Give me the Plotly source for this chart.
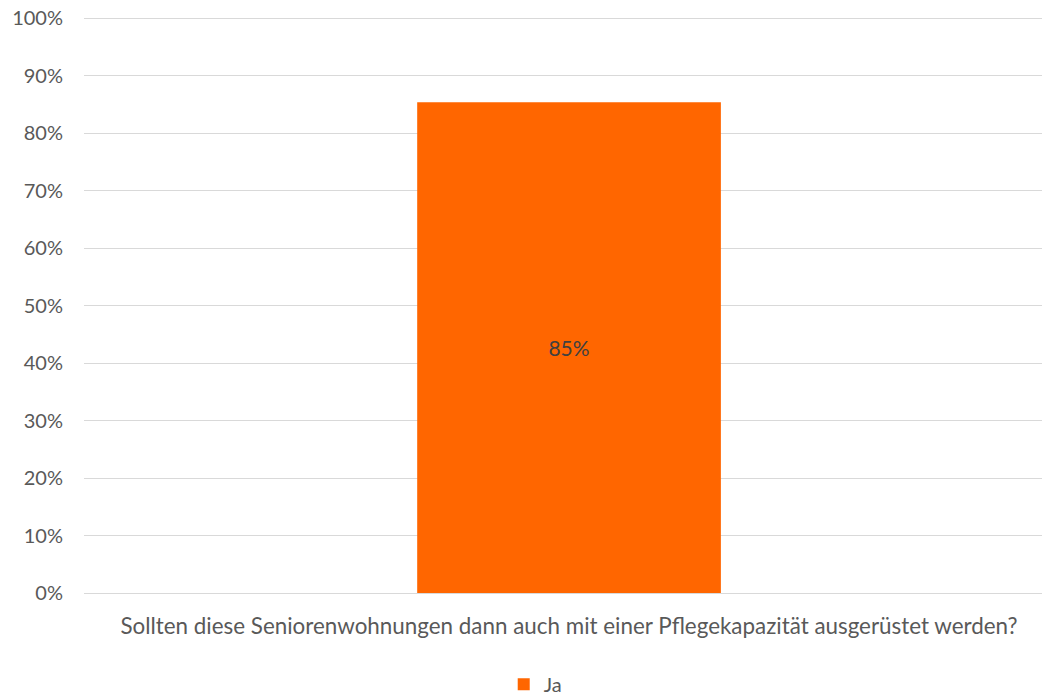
import plotly.graph_objects as go

categories = ["Sollten diese Seniorenwohnungen dann auch mit einer Pflegekapazität ausgerüstet werden?"]
series_name = "Ja"
values = [0.854]
labels = ["85%"]
tick_vals = [i / 10 for i in range(11)]
tick_text = [f"{i*10}%" for i in range(11)]

FONT = "Lato, sans-serif"
GREY = "#595959"

fig = go.Figure()
fig.add_trace(go.Bar(
    x=categories, y=values, name=series_name,
    marker=dict(color="#FF6600", line=dict(width=0)),
    text=labels, textposition="inside", insidetextanchor="middle",
    textfont=dict(family=FONT, size=21, color="#404040"),
))

fig.update_layout(
    width=1042, height=696,
    margin=dict(l=84, r=0, t=16, b=103, autoexpand=False),
    paper_bgcolor="white", plot_bgcolor="white",
    bargap=0.683,
    showlegend=True,
    legend=dict(orientation="h", x=0.471, xanchor="center", y=-0.158, yanchor="middle",
                font=dict(family=FONT, size=20, color=GREY),
                itemwidth=30),
    font=dict(family=FONT, color=GREY),
)
fig.update_yaxes(
    range=[0, 1.004], tickvals=tick_vals, ticktext=tick_text,
    showgrid=True, gridcolor="#D9D9D9", gridwidth=1,
    zeroline=False, showline=False, automargin=False,
    ticklabeloverflow="allow",
    tickfont=dict(family=FONT, size=20, color=GREY),
    ticklabelstandoff=20,
)
fig.update_xaxes(
    range=[-0.5063, 0.4937],
    showline=True, linecolor="#D9D9D9", linewidth=1, automargin=False,
    ticks="", tickfont=dict(family=FONT, size=22.4, color=GREY),
    ticklabelstandoff=13,
)

fig.write_html(
    "out.html",
    config={"displayModeBar": False},
    post_script="document.body.style.margin='0';document.body.style.overflow='hidden';",
)
